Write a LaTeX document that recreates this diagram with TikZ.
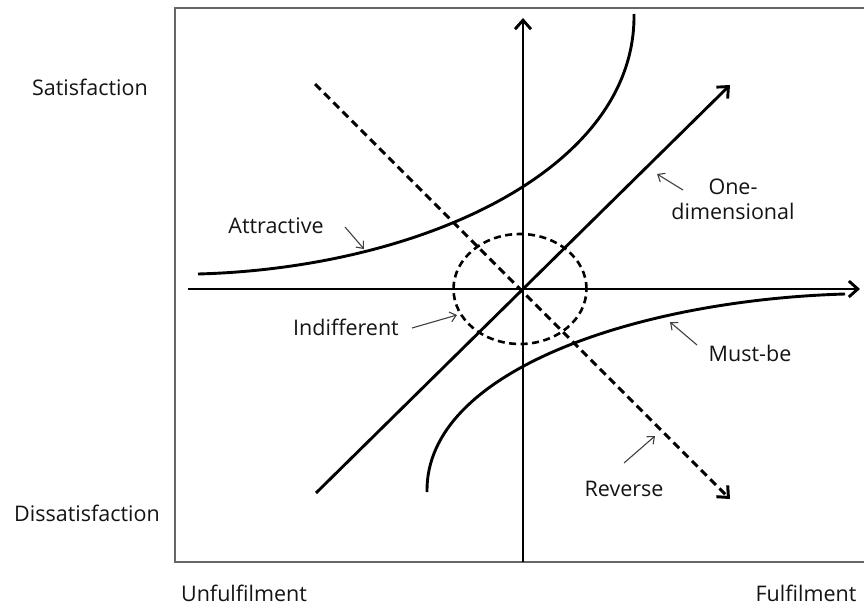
\documentclass[tikz,border=0pt]{standalone}
\usepackage{fontspec}
\setmainfont{Open Sans}
\usetikzlibrary{arrows.meta}
\begin{document}
\begin{tikzpicture}[x=1pt,y=-1pt,
  lbl/.style={font=\fontsize{21.5}{25}\selectfont, text=black!92, inner sep=0pt, align=center},
  axis/.style={line width=2.9pt, black, -{Straight Barb[length=9pt,width=16pt,line width=2.9pt]}},
  curve/.style={line width=2.9pt, black},
  dashline/.style={line width=3pt, black, dash pattern=on 8pt off 5pt},
  pointer/.style={line width=1.1pt, black!75, -{Straight Barb[length=6pt,width=10pt,line width=1.1pt]}}]
\useasboundingbox (0,0) rectangle (864,605);
% frame
\draw[line width=2.2pt, black!60] (864,8) -- (175,8) -- (175,562) -- (864,562);
% coordinates
\coordinate (vb) at (523,562);
\coordinate (vt) at (523,18);
\coordinate (hl) at (188,289);
\coordinate (hr) at (860,289);
\coordinate (db) at (316,493);
\coordinate (dt) at (730,85);
\coordinate (rs) at (315,84);
\coordinate (re) at (730,499);
\coordinate (ctr) at (520,289);
\coordinate (as) at (198,274);
\coordinate (ae) at (634,14);
\coordinate (ms) at (427,492);
\coordinate (me) at (845,294);
% axes
\draw[axis] (vb) -- (vt);
\draw[axis] (hl) -- (hr);
% one-dimensional
\draw[axis] (db) -- (dt);
% reverse
\draw[dashline, -{Straight Barb[length=9pt,width=16pt,line width=3pt]}] (rs) -- (re);
% indifferent
\draw[line width=2.6pt, dash pattern=on 7pt off 4.5pt] (ctr) ellipse [x radius=66.5pt, y radius=55pt];
% attractive
\draw[curve] (as) .. controls (420,268) and (636,170) .. (ae);
% must-be
\draw[curve] (ms) .. controls (425,370) and (640,300) .. (me);
% labels
\node[lbl] (sat) at (90,87) {Satisfaction};
\node[lbl] (dis) at (87,513) {Dissatisfaction};
\node[lbl] (unf) at (244,593) {Unfulfilment};
\node[lbl] (ful) at (806,593) {Fulfilment};
\node[lbl] (att) at (276,226) {Attractive};
\node[lbl] (one) at (733,199) {One-\\dimensional};
\node[lbl] (ind) at (346,327) {Indifferent};
\node[lbl] (mus) at (750,353) {Must-be};
\node[lbl] (rev) at (624,489) {Reverse};
% pointer arrows
\coordinate (pa0) at (345,227); \coordinate (pa1) at (364,249);
\coordinate (po0) at (683,190); \coordinate (po1) at (657,174);
\coordinate (pi0) at (412,328); \coordinate (pi1) at (457,315);
\coordinate (pm0) at (697,345); \coordinate (pm1) at (670,322);
\coordinate (pr0) at (624,463); \coordinate (pr1) at (655,436);
\draw[pointer] (pa0) -- (pa1);
\draw[pointer] (po0) -- (po1);
\draw[pointer] (pi0) -- (pi1);
\draw[pointer] (pm0) -- (pm1);
\draw[pointer] (pr0) -- (pr1);
\end{tikzpicture}
\end{document}
